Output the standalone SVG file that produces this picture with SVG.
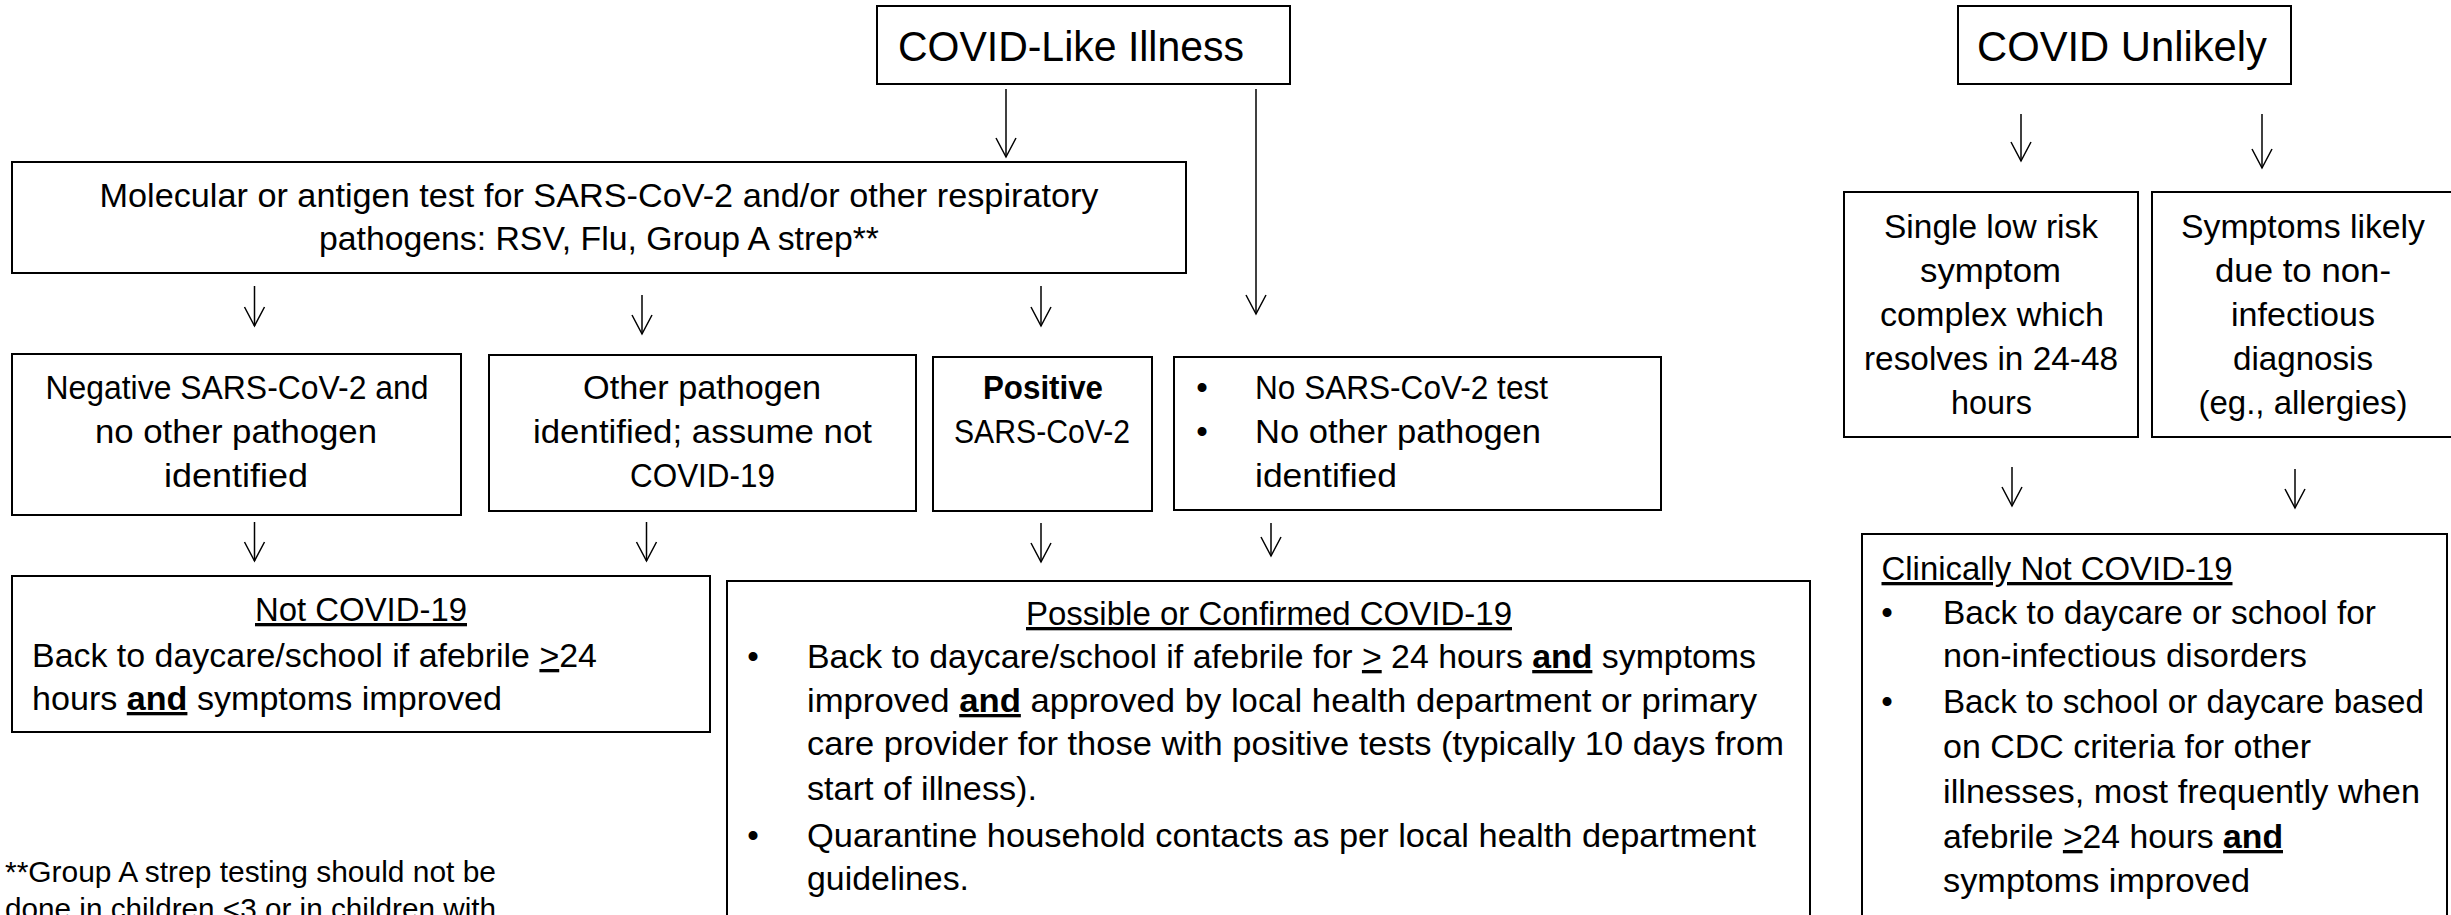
<svg xmlns="http://www.w3.org/2000/svg" width="2451" height="915" viewBox="0 0 2451 915">
<style>
.box{fill:#fff;stroke:#000;stroke-width:2}
.t{font-family:"Liberation Sans",Arial,sans-serif;font-size:33px;fill:#000}
.c{text-anchor:middle}
.b{font-weight:bold}
.u{text-decoration:underline}
.big{font-size:42px}
.fn{font-size:29px}
#connectors line{stroke:#000;stroke-width:1.5;fill:none;marker-end:url(#ah)}
</style>
<defs>
<marker id="ah" markerUnits="userSpaceOnUse" orient="auto" refX="0" refY="0" viewBox="-21 -12 23 24" markerWidth="23" markerHeight="24" overflow="visible">
<path d="M-19,-10 L0,0 L-19,10" fill="none" stroke="#000" stroke-width="1.5"/>
</marker>
</defs>
<rect width="2451" height="915" fill="#fff"/>

<g id="connectors">
<line x1="1006" y1="89" x2="1006" y2="157"/>
<line x1="1256" y1="89" x2="1256" y2="314"/>
<line x1="254.5" y1="286" x2="254.5" y2="326"/>
<line x1="642" y1="295" x2="642" y2="334"/>
<line x1="1041" y1="286" x2="1041" y2="326"/>
<line x1="254.5" y1="522" x2="254.5" y2="561"/>
<line x1="646.5" y1="522" x2="646.5" y2="561"/>
<line x1="1041" y1="523" x2="1041" y2="562"/>
<line x1="1271" y1="523" x2="1271" y2="556"/>
<line x1="2021" y1="114" x2="2021" y2="161"/>
<line x1="2262" y1="114" x2="2262" y2="168"/>
<line x1="2012" y1="467" x2="2012" y2="506"/>
<line x1="2295" y1="469" x2="2295" y2="508"/>
</g>

<g id="covid-like">
<rect class="box" x="877" y="6" width="413" height="78"/>
<text class="t big c" x="1071" y="61" textLength="346" lengthAdjust="spacingAndGlyphs">COVID-Like Illness</text>
</g>

<g id="covid-unlikely">
<rect class="box" x="1958" y="6" width="333" height="78"/>
<text class="t big c" x="2122" y="61" textLength="290" lengthAdjust="spacingAndGlyphs">COVID Unlikely</text>
</g>

<g id="test">
<rect class="box" x="12" y="162" width="1174" height="111"/>
<text class="t c" x="599" y="207" textLength="999" lengthAdjust="spacingAndGlyphs">Molecular or antigen test for SARS-CoV-2 and/or other respiratory</text>
<text class="t c" x="599" y="250" textLength="560" lengthAdjust="spacingAndGlyphs">pathogens: RSV, Flu, Group A strep**</text>
</g>

<g id="negative">
<rect class="box" x="12" y="354" width="449" height="161"/>
<text class="t c" x="237" y="399" textLength="383" lengthAdjust="spacingAndGlyphs">Negative SARS-CoV-2 and</text>
<text class="t c" x="236" y="443" textLength="282" lengthAdjust="spacingAndGlyphs">no other pathogen</text>
<text class="t c" x="236" y="487" textLength="144" lengthAdjust="spacingAndGlyphs">identified</text>
</g>

<g id="other-pathogen">
<rect class="box" x="489" y="355" width="427" height="156"/>
<text class="t c" x="702" y="399" textLength="238" lengthAdjust="spacingAndGlyphs">Other pathogen</text>
<text class="t c" x="702.5" y="443" textLength="339" lengthAdjust="spacingAndGlyphs">identified; assume not</text>
<text class="t c" x="702.5" y="487" textLength="145" lengthAdjust="spacingAndGlyphs">COVID-19</text>
</g>

<g id="positive">
<rect class="box" x="933" y="357" width="219" height="154"/>
<text class="t c b" x="1043" y="399" textLength="120" lengthAdjust="spacingAndGlyphs">Positive</text>
<text class="t c" x="1042" y="443" textLength="176" lengthAdjust="spacingAndGlyphs">SARS-CoV-2</text>
</g>

<g id="no-test">
<rect class="box" x="1174" y="357" width="487" height="153"/>
<text class="t c" x="1202" y="399">•</text>
<text class="t c" x="1202" y="443">•</text>
<text class="t" x="1255" y="399" textLength="293" lengthAdjust="spacingAndGlyphs">No SARS-CoV-2 test</text>
<text class="t" x="1255" y="443" textLength="286" lengthAdjust="spacingAndGlyphs">No other pathogen</text>
<text class="t" x="1255" y="487" textLength="142" lengthAdjust="spacingAndGlyphs">identified</text>
</g>

<g id="single-low-risk">
<rect class="box" x="1844" y="192" width="294" height="245"/>
<text class="t c" x="1991" y="238" textLength="214" lengthAdjust="spacingAndGlyphs">Single low risk</text>
<text class="t c" x="1990.5" y="282" textLength="141" lengthAdjust="spacingAndGlyphs">symptom</text>
<text class="t c" x="1992" y="326" textLength="224" lengthAdjust="spacingAndGlyphs">complex which</text>
<text class="t c" x="1991" y="370" textLength="254" lengthAdjust="spacingAndGlyphs">resolves in 24-48</text>
<text class="t c" x="1991.5" y="414" textLength="81" lengthAdjust="spacingAndGlyphs">hours</text>
</g>

<g id="non-infectious">
<rect class="box" x="2152" y="192" width="303" height="245"/>
<text class="t c" x="2303" y="238" textLength="244" lengthAdjust="spacingAndGlyphs">Symptoms likely</text>
<text class="t c" x="2303" y="282" textLength="176" lengthAdjust="spacingAndGlyphs">due to non-</text>
<text class="t c" x="2303" y="326" textLength="144" lengthAdjust="spacingAndGlyphs">infectious</text>
<text class="t c" x="2303" y="370" textLength="140" lengthAdjust="spacingAndGlyphs">diagnosis</text>
<text class="t c" x="2303" y="414" textLength="209" lengthAdjust="spacingAndGlyphs">(eg., allergies)</text>
</g>

<g id="not-covid">
<rect class="box" x="12" y="576" width="698" height="156"/>
<text class="t c u" x="361" y="621" textLength="212" lengthAdjust="spacingAndGlyphs">Not COVID-19</text>
<text class="t" x="32" y="667" textLength="565" lengthAdjust="spacingAndGlyphs">Back to daycare/school if afebrile <tspan class="u">&gt;</tspan>24</text>
<text class="t" x="32" y="710" textLength="470" lengthAdjust="spacingAndGlyphs">hours <tspan class="b u">and</tspan> symptoms improved</text>
</g>

<g id="possible-covid">
<rect class="box" x="727" y="581" width="1083" height="360"/>
<text class="t c u" x="1269" y="625" textLength="486" lengthAdjust="spacingAndGlyphs">Possible or Confirmed COVID-19</text>
<text class="t c" x="753" y="668">•</text>
<text class="t" x="807" y="668" textLength="949" lengthAdjust="spacingAndGlyphs">Back to daycare/school if afebrile for <tspan class="u">&gt;</tspan> 24 hours <tspan class="b u">and</tspan> symptoms</text>
<text class="t" x="807" y="712" textLength="950" lengthAdjust="spacingAndGlyphs">improved <tspan class="b u">and</tspan> approved by local health department or primary</text>
<text class="t" x="807" y="755" textLength="977" lengthAdjust="spacingAndGlyphs">care provider for those with positive tests (typically 10 days from</text>
<text class="t" x="807" y="800" textLength="230" lengthAdjust="spacingAndGlyphs">start of illness).</text>
<text class="t c" x="753" y="847">•</text>
<text class="t" x="807" y="847" textLength="949" lengthAdjust="spacingAndGlyphs">Quarantine household contacts as per local health department</text>
<text class="t" x="807" y="890" textLength="162" lengthAdjust="spacingAndGlyphs">guidelines.</text>
</g>

<g id="clinically-not-covid">
<rect class="box" x="1862" y="534" width="585" height="400"/>
<text class="t u" x="1881.5" y="580" textLength="351" lengthAdjust="spacingAndGlyphs">Clinically Not COVID-19</text>
<text class="t c" x="1887" y="624">•</text>
<text class="t" x="1943" y="624" textLength="433" lengthAdjust="spacingAndGlyphs">Back to daycare or school for</text>
<text class="t" x="1943" y="667" textLength="364" lengthAdjust="spacingAndGlyphs">non-infectious disorders</text>
<text class="t c" x="1887" y="713">•</text>
<text class="t" x="1943" y="713" textLength="481" lengthAdjust="spacingAndGlyphs">Back to school or daycare based</text>
<text class="t" x="1943" y="758" textLength="368" lengthAdjust="spacingAndGlyphs">on CDC criteria for other</text>
<text class="t" x="1943" y="803" textLength="477" lengthAdjust="spacingAndGlyphs">illnesses, most frequently when</text>
<text class="t" x="1943" y="848" textLength="340" lengthAdjust="spacingAndGlyphs">afebrile <tspan class="u">&gt;</tspan>24 hours <tspan class="b u">and</tspan></text>
<text class="t" x="1943" y="892" textLength="307" lengthAdjust="spacingAndGlyphs">symptoms improved</text>
</g>

<g id="footnote">
<text class="t fn" x="5" y="882" textLength="491" lengthAdjust="spacingAndGlyphs">**Group A strep testing should not be</text>
<text class="t fn" x="5" y="919" textLength="491" lengthAdjust="spacingAndGlyphs">done in children &lt;3 or in children with</text>
</g>
</svg>
